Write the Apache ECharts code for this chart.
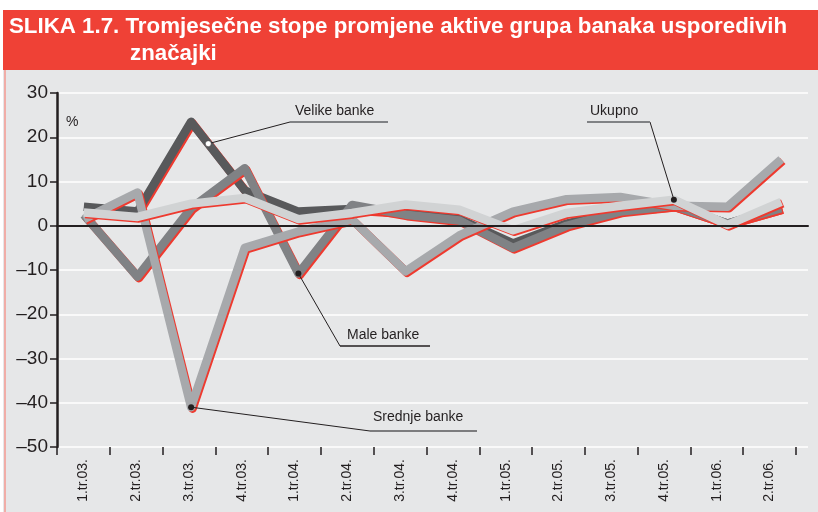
<!DOCTYPE html>
<html>
<head>
<meta charset="utf-8">
<script src="https://cdn.jsdelivr.net/npm/echarts@6/dist/echarts.min.js"></script>
<style>
  html, body { margin: 0; padding: 0; background: #fff; }
  #chart { width: 818px; height: 512px; }
</style>
</head>
<body>
<div id="chart"></div>
<script>
// kvartali
var categories = ['1.tr.03.', '2.tr.03.', '3.tr.03.', '4.tr.03.', '1.tr.04.', '2.tr.04.', '3.tr.04.',
  '4.tr.04.', '1.tr.05.', '2.tr.05.', '3.tr.05.', '4.tr.05.', '1.tr.06.', '2.tr.06.'];
// stope promjene aktive, %
var velike = [4.3, 3.2, 23.5, 8, 3.2, 3.8, 3, 1.5, -4, 0.5, 3.5, 4.5, 0.5, 4];
var male = [2.5, -11.5, 4, 13, -10.8, 4.7, 2.5, 1.2, -5, 0, 3.2, 4.5, 0.5, 4];
var srednje = [1.5, 7.5, -41, -5, -1.3, 1.4, -10.3, -2.2, 3.2, 6, 6.5, 4.5, 4.3, 15];
var ukupno = [3, 2, 5, 6.3, 1.5, 2.9, 4.8, 3.6, -1, 2.9, 4.5, 5.9, 0.2, 5.4];
var yMin = -50, yMax = 30, yStep = 10;

var FONT = 'Liberation Sans';
var RED = '#ee3a2f';

var chartDom = document.getElementById('chart');
var myChart = echarts.init(chartDom);

function serie(name, data, color) {
  return {
    name: name, type: 'line', data: data,
    xAxisIndex: 0, yAxisIndex: 0,
    symbol: 'none', smooth: false,
    lineStyle: {
      color: color, width: 8.5, join: 'round', cap: 'butt',
      shadowColor: RED, shadowBlur: 0, shadowOffsetX: 1.5, shadowOffsetY: 1.5
    },
    z: 3
  };
}

var option = {
  animation: false,
  backgroundColor: '#ffffff',
  grid: [
    { left: 57, top: 93, width: 751, height: 354 },   // podaci
    { left: 57, top: 93, width: 739, height: 354 }    // oznake osi x
  ],
  xAxis: [
    {
      type: 'category', gridIndex: 0, data: categories, boundaryGap: true,
      axisLine: { onZero: true, lineStyle: { color: '#231f20', width: 2 } },
      axisTick: { show: false }, axisLabel: { show: false }, splitLine: { show: false }, z: 4
    },
    {
      type: 'category', gridIndex: 1, data: categories, boundaryGap: true, position: 'bottom',
      axisLine: { show: false, onZero: false },
      axisTick: { show: true, length: 8, lineStyle: { color: '#231f20', width: 1.5 } },
      axisLabel: { rotate: 90, margin: 12, fontSize: 14, fontFamily: FONT, color: '#231f20' },
      splitLine: { show: false }
    }
  ],
  yAxis: [
    {
      type: 'value', gridIndex: 0, min: yMin, max: yMax, interval: yStep,
      axisLine: { show: true, onZero: false, lineStyle: { color: '#231f20', width: 2.5 } },
      axisTick: { show: true, length: 7, lineStyle: { color: '#231f20', width: 1.5 } },
      axisLabel: {
        margin: 9, fontSize: 19, fontFamily: FONT, color: '#231f20',
        formatter: function (v) { return String(v).replace('-', '\u2013'); }
      },
      splitLine: { lineStyle: { color: '#ffffff', width: 1.5 } }
    },
    { type: 'value', gridIndex: 1, min: yMin, max: yMax, show: false }
  ],
  series: [
    serie('Velike banke', velike, '#58595b'),
    serie('Male banke', male, '#808285'),
    serie('Srednje banke', srednje, '#a7a9ac'),
    serie('Ukupno', ukupno, '#d1d3d4')
  ]
};
myChart.setOption(option);

// pozadina, naslov i oznake serija
function pt(si, idx, v) { return myChart.convertToPixel({ seriesIndex: si }, [idx, v]); }
var a = pt(0, 2, velike[2]), b = pt(0, 3, velike[3]);
var dotV = [a[0] + (b[0] - a[0]) * 0.32, a[1] + (b[1] - a[1]) * 0.32];
var dotU = pt(3, 11, ukupno[11]);
var dotM = pt(1, 4, male[4]);
var dotS = pt(2, 2, srednje[2]);

function label(txt, x, y) {
  return { type: 'text', left: x, top: y, z: 20,
    style: { text: txt, fontSize: 14, fontFamily: FONT, fill: '#231f20' } };
}
function seg(pts, color, w) {
  return { type: 'polyline', z: 19, shape: { points: pts },
    style: { stroke: color, lineWidth: w, fill: null } };
}
function dot(p, fill) {
  return { type: 'circle', z: 21, shape: { cx: p[0], cy: p[1], r: 3 },
    style: { fill: fill, stroke: '#231f20', lineWidth: fill === '#fff' ? 0.5 : 0 } };
}

myChart.setOption({
  graphic: [
    { type: 'rect', z: -10, silent: true, shape: { x: 3, y: 70, width: 815, height: 442 }, style: { fill: '#e6e7e8' } },
    { type: 'rect', z: -9, silent: true, shape: { x: 3, y: 10, width: 815, height: 60 }, style: { fill: '#ef4136' } },
    { type: 'line', z: -8, shape: { x1: 5, y1: 70, x2: 5, y2: 512 }, style: { stroke: '#f39a92', lineWidth: 1.5 } },
    { type: 'text', left: 9, top: 16, z: 10,
      style: { text: 'SLIKA 1.7. Tromjesečne stope promjene aktive grupa banaka usporedivih',
        fontSize: 22.3, fontWeight: 'bold', fontFamily: FONT, fill: '#ffffff' } },
    { type: 'text', left: 130, top: 43, z: 10,
      style: { text: 'značajki', fontSize: 22.3, fontWeight: 'bold', fontFamily: FONT, fill: '#ffffff' } },
    { type: 'text', left: 66, top: 115, z: 10, style: { text: '%', fontSize: 14, fontFamily: FONT, fill: '#231f20' } },

    label('Velike banke', 295, 104),
    seg([dotV, [290, 122]], '#231f20', 1),
    seg([[290, 122], [388, 122]], '#808285', 2),
    dot(dotV, '#fff'),

    label('Ukupno', 590, 104),
    seg([dotU, [650, 122]], '#231f20', 1),
    seg([[587, 122], [650, 122]], '#808285', 2),
    dot(dotU, '#231f20'),

    label('Male banke', 347, 328),
    seg([dotM, [340, 346]], '#231f20', 1),
    seg([[340, 346], [430, 346]], '#231f20', 1.5),
    dot(dotM, '#231f20'),

    label('Srednje banke', 373, 410),
    seg([dotS, [370, 431]], '#231f20', 1),
    seg([[370, 431], [477, 431]], '#58595b', 1.5),
    dot(dotS, '#231f20')
  ]
});

window.onresize = function () {
  myChart.resize();
};
</script>
</body>
</html>
